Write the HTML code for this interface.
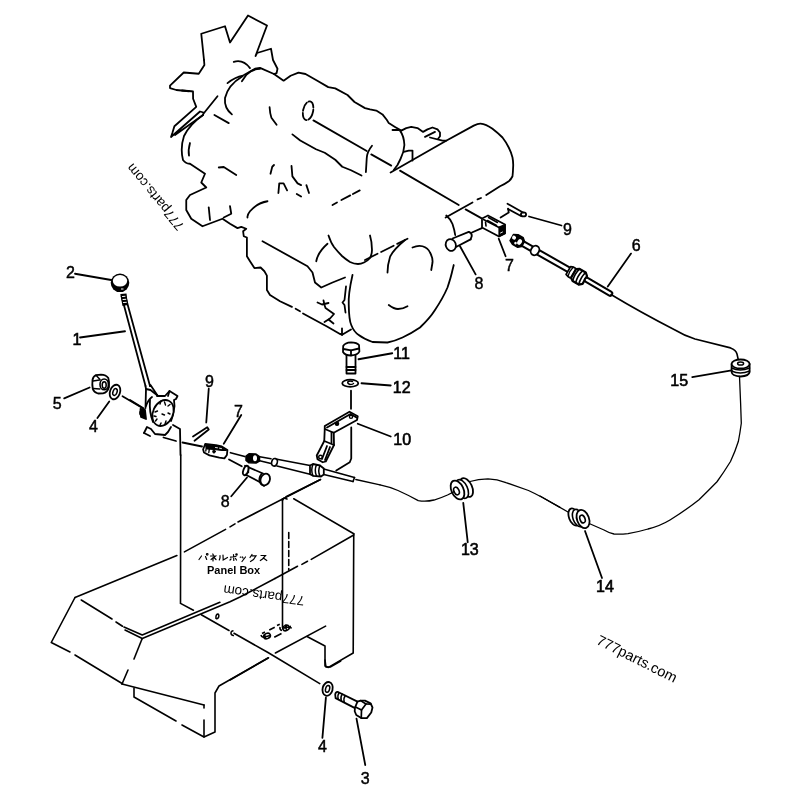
<!DOCTYPE html>
<html><head><meta charset="utf-8"><style>
html,body{margin:0;padding:0;background:#fff;width:800px;height:800px;overflow:hidden}
svg{position:absolute;left:0;top:0}
text{font-family:"Liberation Sans",sans-serif;fill:#000}
.sf{font-family:"Liberation Serif",serif}
</style></head><body>
<svg style="will-change:transform" width="800" height="800" viewBox="0 0 800 800">
<g fill="none" stroke="#000" stroke-width="1.8" stroke-linejoin="round" stroke-linecap="round">
<!-- FAN -->
<polyline points="204,60 204.4,65 202.5,68 198.75,73.75 183.75,72.5 170,85.6 170,88.1 176.25,90 189,91.25"/>
<polyline points="182,90.5 191.25,91.25 193,91.5 193.1,98.75 196.25,106.9 174.4,126.25 172.5,132.5 171,137 200,111.5 203.5,112.5 203.1,115 175,135"/>
<polyline points="204,60 201.25,33.75 225,26.25 230,42.5 248,15.5 267,25.5 255.5,56 257,53 271,48.75 273,60 277.5,68.75 276.6,73.1 274,74"/>
<polyline points="204,113 217.5,96.25"/>
<path d="M233.75,61.9 Q243,59 250,68.1"/>
<path d="M227.5,83.1 Q235,77 243,75.6"/>
<path d="M231.9,114.4 Q224,108 225,98 Q228,85 242.5,76.25"/>
<path d="M241.9,81.25 L246.25,75 Q252,69 260,68.75"/>
<polyline points="214.4,115 228.75,123.1"/>
<!-- ENGINE TOP -->
<polyline points="244,75 255,68.75 260,67.9 274,74 283.6,80.65 290.6,75.75 298.5,72.6 305.5,74 317.75,81 328.25,87.1 335.25,88.35 347.5,95 354.5,102 365,108.1 370,109.4 376.25,110.6 382.5,114.4 386.9,120 388.75,123.1 395,126.9 401.25,130.6"/>
<polyline points="392.5,130 398.75,130"/>
<path d="M400,130.6 Q404,136 404.4,145 Q404,152 400.6,158.75 L397.5,165 393.75,170"/>
<polyline points="401.25,130.6 406.25,128.1 411.25,126.9 417.5,128.1 423.1,131.9 427.5,129.4 432.5,127.5 437.5,129.4 440,132.5 440,136.25 438.1,138.75"/>
<polyline points="425,136.9 435,131.9"/>
<polyline points="430,137.5 442.5,140.6 446.25,140.6"/>
<polyline points="403.75,151.9 408.75,150.6 412.5,150.6 412.5,160.6"/>
<!-- big drum -->
<path d="M390.6,172.5 L447.5,140 L473.75,125.6 Q478,123.5 480.5,123.6 Q486,124 492.5,128.75 Q498,133 502.5,137.5 Q506,142 508.75,147.5 Q511,152 512.5,157.5 Q513.5,163 513.1,167.5 Q513,172 512.5,176.25 Q511,179.5 508.75,181.25 Q505,184 500,186.25 L486.25,195"/>
<polyline points="481,198 477.5,199.4"/>
<polyline points="472.5,202.5 445.6,217.5"/>
<!-- centerline -->
<polyline points="313.4,120.4 366.75,151"/>
<polyline points="371.25,154.4 391.25,165.6"/>
<polyline points="400,170.6 458.75,205"/>
<polyline points="465.6,209.4 481.25,218.1"/>
<ellipse cx="308.1" cy="110.75" rx="5" ry="9.5" transform="rotate(12 308.1 110.75)" stroke-dasharray="9 2"/>
<!-- engine left side -->
<path d="M372,145.75 Q367,152 366.75,158 L365.9,172"/>
<polyline points="341.4,200 359.75,190.4" stroke-dasharray="10 3"/>
<polyline points="332.5,205 337,202.5"/>
<polyline points="292.4,134.4 300.25,140.5 316,149.25 324.75,152.75 335.25,159.75 342.25,166.75 351,170.25 361.5,175.5"/>
<path d="M269.6,107.25 Q270,114 271.4,117.75 L276.6,124.75"/>
<path d="M203,115 Q190,124 184,136 Q180,148 183,160 Q186,164 190,163.75 L205,173.75 201.25,182.5 206.25,187.5 190,195 186.25,200 186.25,210 191.25,218.75 202.5,226.25 222.5,218.75 230,223.75 237.5,228.1 241.25,226.9 246.25,228.75 243.1,231.25 243.75,236.25 246.9,237.5 246.9,256.25 250,261.25 254.4,268.1 260.6,267.5 264.4,271.25 266.9,275.6 266.9,290 270,295 280,301.25 291.9,306.9"/>
<polyline points="295.6,308.75 300,311.25"/>
<polyline points="303,313.5 327,326.5 340,334 342.5,334.5 351,329.5"/>
<path d="M190,143 Q188,150 189,155.6"/>
<polyline points="218.75,167.5 223.75,167 236.25,175"/>
<polyline points="208.75,207.5 210,220"/>
<polyline points="230,206.25 231.25,213.75 223.75,217.5"/>
<path d="M267.5,201.25 Q257,203 250,211.25 Q247,215 247.5,217.5"/>
<polyline points="270.5,173.75 272.25,166.75 274,165"/>
<polyline points="291.5,165.9 292.4,176.4 297.6,183.4 301.1,185.1"/>
<polyline points="278.4,193 279.25,183.4 283.6,183.4 287.1,190.4"/>
<polyline points="296.75,193.9 301.1,196.5"/>
<polyline points="306.4,185.1 309,193"/>
<polyline points="262.5,241.25 307.5,266.25 312.5,272.5 315,282.5 321.25,287.5 332.5,282.5 345,277.5"/>
<path d="M328.5,235.5 Q331,243 334,247 Q338,252 342,256 Q346,259.5 350,262 Q354,264 358,264 Q361,264 364,262.5 Q368,260.5 370,258 Q372,254 372,250 Q372,242 370,235.5"/>
<path d="M327.5,243.75 Q318,252 316.25,261.25"/>
<polyline points="365,260 407.5,238.75" stroke-dasharray="14 4"/>
<!-- flywheel housing -->
<path d="M352.5,275 Q348,295 348.75,305 Q349,320 351.25,325 Q354,332 358.75,335 Q364,339 372.5,342 L387.5,342.5 Q395,341 402.5,337.5 Q412,333 420,327.5 Q430,318 435,310 Q443,298 447.5,287.5 Q451,277 452.5,270 L453.75,265"/>
<path d="M446.25,215.5 Q450.5,219 452.5,224 Q454.5,230 455.2,235"/>
<path d="M405,240 Q393,250 390,257 Q387.5,265 387.5,272.5"/>
<path d="M412.5,247.5 Q418,245 422.5,246.25 Q428,248 430,252.5 Q433,258 432.5,262.5 L431.25,270"/>
<path d="M388.75,305 Q394,309 398,309 Q403,309 407.5,306.25"/>
<polyline points="346,286.5 344.5,300 342.5,302.5 344.5,305 345.5,312.5"/>
<polyline points="317.5,302.5 322,304.5 328.5,303"/>
<polyline points="323.5,300.5 324.5,305 325.5,308 334,314 330,318.5 324.5,322"/>
<polyline points="328.5,319.5 333.5,323.5"/>
<polyline points="342,328.5 342,335"/>
</g>

<!-- PARTS upper right: 8,7,9 -->
<g fill="none" stroke="#000" stroke-width="1.8" stroke-linejoin="round" stroke-linecap="round">
<!-- bolt 8 upper -->
<ellipse cx="450.8" cy="245" rx="5" ry="6" transform="rotate(-20 450.8 245)"/>
<polyline points="452.5,238.5 468.75,231.9"/>
<polyline points="456.5,246.8 470.6,239.4"/>
<path d="M468.75,231.9 Q472,233 471.8,236 L470.6,239.4"/>
<polyline points="460,246.25 475.6,274.4"/>
<polyline points="471.9,232.5 481.9,228.1"/>
<!-- block 7 upper -->
<polygon points="482,218.5 488,215.5 505,224.5 505,233.5 499,236.5 482,227.5" fill="#fff"/>
<polygon points="499,227 505,224.5 505,233.5 499,236.5" fill="#000" stroke-width="1.2"/>
<polyline points="500.5,233 502.5,232" stroke="#fff" stroke-width="0.9"/>
<polyline points="483.5,219.5 499,227.5" stroke-width="1.5"/>
<polyline points="488.5,217.5 497.5,222.5" stroke-width="1.5"/>
<polyline points="487.5,220.5 496.5,225.5" stroke-width="1.5"/>
<polyline points="485.5,222 486,226" stroke-width="1.6"/>
<polyline points="498.75,238.75 505.6,256.25"/>
<!-- pin 9 upper -->
<polyline points="507.5,203.75 523,212.5"/>
<polyline points="508.1,209 521,216"/>
<ellipse cx="523.5" cy="214.4" rx="2.6" ry="2" />
<polyline points="500.6,217.5 508.75,212.5 508.1,208.75"/>
<polyline points="529,216.5 561.5,225.5"/>
<!-- cable 6 -->
<path d="M520,242 L571,271" stroke-width="7"/>
<path d="M520,242 L571,271" stroke="#fff" stroke-width="3"/>
<g transform="translate(517,240.5) rotate(30)">
<path d="M-6,-3.5 L-2,-5.5 L4,-5.5 L7,-3 L7,3 L4,5.5 L-2,5.5 L-6,3.5 Z" fill="#000" stroke-width="1.5"/>
<ellipse cx="-4" cy="-1" rx="2" ry="2" fill="#fff" stroke="none"/>
<ellipse cx="3" cy="0" rx="2.2" ry="3" fill="#fff" stroke="none"/>
<ellipse cx="0" cy="3" rx="1.3" ry="1.3" fill="#fff" stroke="none"/>
</g>
<ellipse cx="535" cy="250.5" rx="4" ry="5" transform="rotate(30 535 250.5)" fill="#fff"/>
<g transform="translate(577,275.5) rotate(30)">
<path d="M-10,-4.5 L-7,-5.5 L-5,-5.5 L-4,-4.5 L-4,4.5 L-5,5.5 L-7,5.5 L-10,4.5 Z" fill="#fff" stroke-width="1.8"/>
<path d="M-4,-5 L-1,-7 L6,-7 L9,-4.5 L9,4.5 L6,7 L-1,7 L-4,5 Z" fill="#fff" stroke-width="2.2"/>
<path d="M-1,-7 Q-3,0 -1,7 M2.5,-7 Q0.5,0 2.5,7 M6,-7 Q4,0 6,7" stroke-width="1.6"/>
<path d="M-7.5,-5 Q-9,0 -7.5,5" stroke-width="1.4"/>
</g>
<path d="M587,280 L610,293.5" stroke-width="6.5"/>
<path d="M587,280 L610,293.5" stroke="#fff" stroke-width="2.5"/>
<polyline points="607.75,286.5 631,253.6"/>
<path d="M611,294.5 Q640,312 675,330 Q685,336 695,339 L730.5,347.9 Q736,350 737,354 L738.4,360.25" stroke-width="1.6"/>
<!-- grommet 15 -->
<path d="M731.6,364 L731.6,372 Q732,376 740.6,376.5 Q749,376 749.6,372 L749.6,364" fill="#fff"/>
<ellipse cx="740.6" cy="364" rx="9" ry="4.5" fill="#fff"/>
<path d="M731.6,368 Q740,372 749.6,368" stroke-width="1.5"/>
<path d="M731.6,371 Q740,375 749.6,371" stroke-width="1.5"/>
<ellipse cx="740.6" cy="363.5" rx="3" ry="1.6" stroke-width="1.5"/>
<polyline points="692.25,377.1 731.6,370.4"/>
<path d="M739.5,376.5 L740.6,403 L741.3,423.25 Q740,433 738.4,441.25 Q735,452 730.5,461.5 Q724,472 717,481.75 Q708,491 699,499.75 Q686,510 670,520 Q660,526 648,529 Q638,532 628,533.6 Q620,534.5 614,534 Q609,533 604,530 L588,523" stroke-width="1.3"/>
<!-- grommet 14 -->
<path d="M573,509 L585,513 L586,528 L571,526 Z" fill="#fff" stroke="none"/>
<ellipse cx="574" cy="517" rx="5" ry="9" transform="rotate(-20 574 517)" fill="#fff"/>
<ellipse cx="578" cy="518" rx="5" ry="9" transform="rotate(-20 578 518)" fill="#fff" stroke-width="1.6"/>
<ellipse cx="583" cy="519" rx="6" ry="9.5" transform="rotate(-20 583 519)" fill="#fff"/>
<ellipse cx="582.5" cy="519" rx="2.5" ry="4" transform="rotate(-20 582.5 519)" stroke-width="1.6"/>
<path d="M540,496 L568,512" stroke-width="1.3"/>
<polyline points="585,531 602,578"/>
<!-- grommet 13 -->
<ellipse cx="466.5" cy="487.5" rx="5.5" ry="10" transform="rotate(-25 466.5 487.5)" fill="#fff"/>
<ellipse cx="462" cy="489" rx="5.5" ry="10" transform="rotate(-25 462 489)" fill="#fff" stroke-width="1.6"/>
<ellipse cx="457.5" cy="490" rx="6" ry="10" transform="rotate(-25 457.5 490)" fill="#fff"/>
<ellipse cx="456.5" cy="491" rx="2.5" ry="4" transform="rotate(-25 456.5 491)" stroke-width="1.6"/>
<path d="M380,484.9 Q390,487 398,490.5 Q408,495 418.25,500.6 Q426,502 434,500 Q441,498 447.5,495 L454.25,491.6" stroke-width="1.3"/>
<path d="M470,481.5 Q478,479 488,478.8 Q497,479 506,482.6 L528.5,490.5 Q536,494 542,497.25 L560,507.4" stroke-width="1.3"/>
<polyline points="463.25,502.9 467.75,542.25"/>
<path d="M355.75,479.5 L380,484.9" stroke-width="1.3"/>
<!-- bolt 11 -->
<path d="M343.2,346 Q345,342.5 351,342.3 Q357,342.5 359,345 L359.4,351.5 Q358,355 351,355.5 Q345,355.5 343,352 Z" fill="#fff"/>
<polyline points="343.5,349 351,350.3 359,348.5"/>
<polyline points="351,350.3 351,355.3"/>
<polyline points="346.5,355 346.5,373.5 355.5,373.5 355.5,355"/>
<polyline points="346.5,367 355.5,367"/>
<polyline points="346.5,370 355.5,370"/>
<polyline points="358.5,359.25 392.25,353.25"/>
<!-- washer 12 -->
<ellipse cx="350.25" cy="383.25" rx="8" ry="3.6" />
<path d="M352.5,381.5 Q350,380.5 348,381.5 Q347,383.5 350,384.5 Q353,384.5 353.5,383.5" stroke-width="1.5"/>
<polyline points="361.5,383.25 390.75,385.5"/>
<polyline points="351,390.75 351,408.75"/>
<!-- bracket 10 -->
<polygon points="324.75,426 349.5,411.75 357.75,416.25 357,420 333.75,432.75 324.75,429" fill="#fff"/>
<polyline points="327,427.5 350.5,414 356.5,417.5"/>
<circle cx="351" cy="416.8" r="1.6" stroke-width="1.4"/>
<circle cx="337" cy="423.8" r="1.6" fill="#000" stroke-width="1.4"/>
<polyline points="357.75,423.75 390.75,436.5"/>
<polyline points="351.25,427.5 351.25,458.5 349.75,462.25 336.25,470.5"/>
<polyline points="324.75,429 324.25,441 316.75,455.5 317.5,459.25 322.75,462.25 325.75,461.5 334,445 333.75,432.75"/>
<polyline points="324.25,441 334,445"/>
<polyline points="331.5,432 331.5,443"/>
<circle cx="320.5" cy="457" r="1.8" stroke-width="1.4"/>
<polyline points="327,446 322,459"/>
<polyline points="330,447 325,460"/>
</g>

<!-- LEFT LEVER ASSEMBLY -->
<g fill="none" stroke="#000" stroke-width="1.8" stroke-linejoin="round" stroke-linecap="round">
<!-- knob 2 -->
<circle cx="120" cy="282.8" r="9.3" fill="#000" stroke="none"/>
<ellipse cx="120" cy="280.8" rx="7.2" ry="5.8" fill="#fff" stroke="none"/>
<rect x="121" y="288.5" width="2.5" height="1" fill="#fff" stroke="none"/>
<polyline points="75,273.75 111.25,280"/>
<!-- rod 1 -->
<polyline points="121.5,296 145.5,386"/>
<polyline points="125,295 150,386"/>
<path d="M120.3,294 L126.5,293.5 L128,305 L122.5,306 Z" fill="#000" stroke="none"/>
<path d="M122.5,296.5 L125,296.3 M123,299.5 L125.8,299.3 M123.5,302.5 L126.3,302.3" stroke="#fff" stroke-width="1"/>
<polyline points="80,337.5 125,331.25"/>
<!-- lever base -->
<polyline points="145.5,386 146,389 145.5,408"/>
<polyline points="150,386 150.5,385 157.5,395.5"/>
<polyline points="146,389 150.5,390 157.5,395.5"/>
<polyline points="157,396 165,396 169.5,391 177.5,396 176,399 174,400 174.5,406 173,415 171,421"/>
<polyline points="169.5,391 168,396"/>
<ellipse cx="163" cy="413" rx="10" ry="13.5" transform="rotate(25 163 413)" fill="#fff"/>
<path d="M150,400 Q149,412 153,422" />
<path d="M146,406 Q148,400 152,397" />
<g stroke-width="1.4">
<polyline points="160,404 161,401"/><polyline points="164.5,402 165.5,405"/><polyline points="168,406 170,404.5"/>
<polyline points="155,412 157.5,411"/><polyline points="162,414 164.5,415"/><polyline points="168,413 170,414"/>
<polyline points="157,419 155.5,421"/><polyline points="161,423 160,425"/><polyline points="166,421 165,424"/>
<polyline points="154,416 156,416.5"/>
</g>
<path d="M140.5,409 L145,410 L146,419 L141,417 Z" fill="#000"/>
<circle cx="142.5" cy="413" r="2.5" fill="#000"/>
<polyline points="130,400 143,408"/>
<polyline points="144,433 147,427 151,429 155,434 160,434.5 165,435 168,432 171,427"/>
<polyline points="144,433 150,436"/>
<polyline points="163.5,437.5 176,441"/>
<polyline points="173,425 180,429 180.5,455"/>
<polyline points="182.5,442.5 202,446.5"/>
<!-- nut 5 -->
<path d="M92.5,380 Q93,376.5 96,375.2 L101,374.6 Q106,374.6 108.3,378 Q109.5,382 109,387 Q107.5,392.5 103,393.4 L98,393.5 Q94,392.5 92.8,389 Q92,384.5 92.5,380 Z" fill="#fff"/>
<ellipse cx="104.2" cy="384.4" rx="4.2" ry="5.4" stroke-width="1.6"/>
<ellipse cx="104.2" cy="385" rx="2" ry="3.3" stroke-width="1.5"/>
<polyline points="93,381 99.5,380" stroke-width="1.5"/>
<polyline points="93.2,388.5 99.8,389" stroke-width="1.5"/>
<polyline points="96,375.2 100,379.5" stroke-width="1.5"/>
<polyline points="64.2,398.4 89.6,387.5"/>
<!-- washer 4 -->
<ellipse cx="115" cy="392" rx="5" ry="7.5" transform="rotate(20 115 392)"/>
<ellipse cx="115" cy="392" rx="2" ry="3.5" transform="rotate(20 115 392)" stroke-width="1.5"/>
<polyline points="97.4,418.1 109.25,401.5"/>
<polyline points="122.5,396.25 143.75,408.75"/>
<!-- pin 9 left -->
<polyline points="193,436.5 207.25,427.25 208.75,429.5 194.5,440.75"/>
<polyline points="208.75,388.75 206.25,422.5"/>
<!-- leader 7 left -->
<polyline points="241.25,415 223.75,443.75"/>
<!-- clevis 7 left -->
<path d="M203.1,449.5 L205.2,444 L215.9,445.2 L221.8,446.5 L227.4,449.9 L226.9,455 L224.4,458.4 L219.3,457.6 L209.5,455.4 L204,452.5 Z" fill="#fff"/>
<path d="M205.5,444.5 L216,445.8 L222,447.2 L226.5,450.5 L222,450.5 L214,449.5 L207,449 Z" fill="#000" stroke-width="1"/>
<path d="M215.5,447.5 L217.5,447.8 M219.5,448.2 L221.5,448.6" stroke="#fff" stroke-width="0.9"/>
<ellipse cx="214" cy="451.5" rx="1.3" ry="1.6" fill="#000" stroke-width="1"/>
<path d="M206.5,446.5 L205.8,451 M209.5,448 L208.8,452.5" stroke-width="1.4"/>
<polyline points="230.5,452.75 244.75,456.5"/>
<!-- cable end lower -->
<path d="M246,456 L249,453.8 L256,454 L259.5,456.5 L259.5,461 L256,463 L249,462.8 L246,460.5 Z" fill="#000" stroke-width="1.5"/>
<ellipse cx="255" cy="458.3" rx="2" ry="3" fill="#fff" stroke="none"/>
<path d="M259.7,456.75 L271,458.8 M259.7,460.7 L271,463.5" stroke-width="1.6"/>
<ellipse cx="274.5" cy="462.3" rx="2.8" ry="3.8" transform="rotate(15 274.5 462.3)" fill="#fff" stroke-width="1.6"/>
<path d="M277,459.3 L310,465.5 M277,466 L310,474.3" stroke-width="1.6"/>
<path d="M310,465.5 L313,464 L320,465.5 L323.8,468.5 L323.8,474.5 L321,476.5 L313,475.8 L310,474.3 Z" fill="#fff" stroke-width="1.8"/>
<path d="M313,464.2 Q310.5,470 313,475.8 M316.5,464.8 Q314,470.5 316.5,476 M320,465.5 Q317.5,471 320,476.2" stroke-width="1.5"/>
<path d="M323.8,469 L354.5,477.5 M323.8,474.5 L353,481.5" stroke-width="1.6"/>
<path d="M354.5,477.5 L353,481.5" stroke-width="1.6"/>
<!-- bolt 8 lower -->
<polyline points="229,459.5 241.75,466.25"/>
<path d="M245,465.75 L263,473.5 M246.75,475.3 L259.7,482"/>
<ellipse cx="245.8" cy="470.5" rx="2.4" ry="4.9" transform="rotate(20 245.8 470.5)" fill="#fff"/>
<path d="M248.3,467 L248.5,472.5" stroke-width="1.4"/>
<path d="M261.5,474 Q258.5,478 259.7,482 Q261,484.8 264,486" />
<ellipse cx="265.2" cy="479.5" rx="4.6" ry="6" transform="rotate(20 265.2 479.5)" fill="#fff"/>
<polyline points="247,477.5 231.25,496.25"/>
</g>
<!-- PANEL BOX -->
<g fill="none" stroke="#000" stroke-width="1.6" stroke-linejoin="round" stroke-linecap="round">
<polyline points="180.75,455 180.5,603.4 193.4,610.2"/>
<polyline points="75,597.5 176.9,555.5"/>
<polyline points="184.4,551.9 225.6,529.4"/>
<polyline points="230,526.9 235,523.9"/>
<polyline points="238,522 320.5,479.5"/>
<polyline points="320.5,479.5 286,496.75"/>
<polyline points="282.25,500.5 284,498 287,499"/>
<polyline points="75,597.5 51.25,642.5 70,652"/>
<polyline points="75,655 122.5,683.75"/>
<polyline points="81.25,600 112,619"/>
<polyline points="116,622 122.5,626.25"/>
<polyline points="124,627 142.25,635 219.9,602.3"/>
<polyline points="125,630 142.25,638.5 230,601.75 240,597 275,578.5"/>
<polyline points="275,578.5 297.5,566.25"/>
<polyline points="301.9,564.4 307.5,561.25"/>
<polyline points="311.25,559.4 353.75,535"/>
<polyline points="142,639 134,659"/>
<polyline points="128,670 122,684"/>
<polyline points="122,684 204,705"/>
<polyline points="134,688 134,697 176,721"/>
<polyline points="182,725 204,737 215,732 215,693 219,686 268,658"/>
<polyline points="204,705 204,708"/>
<polyline points="204,720 204,737"/>
<polyline points="282.5,498.75 282.5,627.5"/>
<polyline points="288.75,532.5 288.75,570" stroke-dasharray="6 3"/>
<polyline points="293.75,498.75 353.75,533.75"/>
<polyline points="353.75,533.75 353.2,653 328.4,667.4 325,666 325,646 307,636.5"/>
<polyline points="275.4,653 325.6,626.1"/>
<polyline points="201.3,614.7 229,630.5"/>
<polyline points="234,633.3 268,652.5 319.75,683.6"/>
<polyline points="268.6,657.8 230,680"/>
<polyline points="325,660 325.9,667 330.25,667 340.75,661"/>
</g>
<g fill="none" stroke="#000" stroke-width="1.5">
<path d="M216,618.8 Q215.5,614.5 217.8,614 Q219.5,614.5 218.5,617.5 Q217.5,619 216,618.8"/>
<path d="M233.5,630.8 Q230.8,631 231,633.5 Q231.5,636 234,635.5"/>
<g stroke-width="1.6">
<path d="M269.25,630 L274.75,627.25 M277,625.5 L279.75,624.25 M274.25,637.25 L281.5,633.5"/>
<path d="M262,633.5 L265,632 M261,635 Q262,638 264,636.5"/>
<ellipse cx="267" cy="636" rx="3.5" ry="2.6" transform="rotate(-25 267 636)"/>
<path d="M264.5,634 L265.5,639 M263,637.5 L270,635.5"/>
<ellipse cx="286" cy="628" rx="3.3" ry="2.6" transform="rotate(-25 286 628)"/>
<path d="M285.5,624.5 L286.5,630 M283,628 L291,626.5 M289.5,626 L291.5,628.5"/>
<path d="M280,627 Q279.5,630 282,630.5"/>
</g>
</g>
<!-- BOLTS 3,4 -->
<g fill="none" stroke="#000" stroke-width="1.8" stroke-linejoin="round" stroke-linecap="round">
<ellipse cx="327.6" cy="688.9" rx="5" ry="7" transform="rotate(15 327.6 688.9)"/>
<ellipse cx="327.6" cy="688.9" rx="2" ry="3.5" transform="rotate(15 327.6 688.9)" stroke-width="1.5"/>
<path d="M357.5,701.6 L337.5,691.8 Q335.5,692 335.2,694.5 L335.6,698.1 L355,708.1" fill="#fff"/>
<path d="M339.2,692.8 Q337.3,695 338.2,699.2 M342.2,694.2 Q340.3,696.5 341.2,700.7 M345.2,695.7 Q343.3,698 344.2,702.2" stroke-width="1.5"/>
<path d="M357.5,701.6 L360.6,700.6 L365,700.6 L370.6,703.4 L372.5,707.5 L371.25,712.5 L366.9,718.1 L361.25,718.1 L356.25,715 L354.7,711.25 L355,707.5 Z" fill="#fff"/>
<polyline points="360.6,700.6 366,704 371,704.2" stroke-width="1.7"/>
<polyline points="366,704 361.5,710 361.25,718.1" stroke-width="1.7"/>
<polyline points="355.5,707 361.5,710" stroke-width="1.7"/>
<polyline points="325.9,697.6 322.4,737.9"/>
<polyline points="356.5,718.6 365.25,765"/>
</g>

<!-- LABELS -->
<g font-family="Liberation Sans, sans-serif" font-size="16" fill="#000" stroke="#000" stroke-width="0.45">
<text x="65.9" y="277.8">2</text>
<text x="360.75" y="783.5">3</text>
<text x="318" y="752">4</text>
<text x="89.1" y="431.8">4</text>
<text x="52.7" y="409">5</text>
<text x="631.7" y="251">6</text>
<text x="505" y="270.6">7</text>
<text x="234.1" y="417">7</text>
<text x="474.4" y="288.5">8</text>
<text x="220.75" y="507">8</text>
<text x="563" y="235">9</text>
<text x="204.9" y="386.8">9</text>
</g>
<g font-family="Liberation Serif, serif" font-size="16" fill="#000" stroke="#000" stroke-width="0.6">
<text x="72.6" y="345">1</text>
<text x="393.3" y="444.5">10</text>
<text x="393.3" y="358.75">11</text>
<text x="392.8" y="393">12</text>
<text x="460.9" y="554.9">13</text>
<text x="596" y="592">14</text>
<text x="670.25" y="385.6">15</text>
</g>
<!-- Panel Box text -->
<text x="207" y="573.5" font-family="Liberation Sans, sans-serif" font-size="11" font-weight="bold">Panel Box</text>
<g fill="none" stroke="#000" stroke-width="1.2" stroke-linecap="round">
<path d="M199,559.5 L201.5,556 M205.5,556.5 L206.7,559.5"/><circle cx="207.2" cy="554.3" r="0.8"/>
<path d="M212.8,554 L213.3,555 M210.5,556 L215.5,556 L211,559.5 M213,557.5 L213,561 M214.5,558 L216,559.5"/>
<path d="M220,555.5 L220,558 L219.3,560 M223,555 L223.2,560 L227.5,557.5"/>
<path d="M230.5,557.2 L236,556.5 M233.5,554.5 L233.8,560.5 M231,559 L230,560 M235.5,558.5 L236.5,560"/><circle cx="236.5" cy="554.5" r="0.7"/>
<path d="M240.3,557.2 L241,557.2 M242.5,557 L243,558 M245.5,557 L242,561.5"/>
<path d="M252,554.5 L250,557.5 M252,555.8 L256,555.8 L253.5,559.5 L250.5,561.5"/>
<path d="M261,555.5 L265.5,555.5 L262.5,559 L260.3,560.5 M264,558.5 L266.8,560.5"/>
</g>
<!-- WATERMARKS -->
<text font-family="Liberation Sans, sans-serif" font-size="14.5" transform="translate(595.5,643.5) rotate(26.7)">777parts.com</text>
<text font-family="Liberation Sans, sans-serif" font-size="13.5" transform="translate(305,596.5) rotate(188)">777parts.com</text>
<text font-family="Liberation Sans, sans-serif" font-size="13.5" transform="translate(184.8,225.7) rotate(230.5)">777parts.com</text>
</svg>
</body></html>
